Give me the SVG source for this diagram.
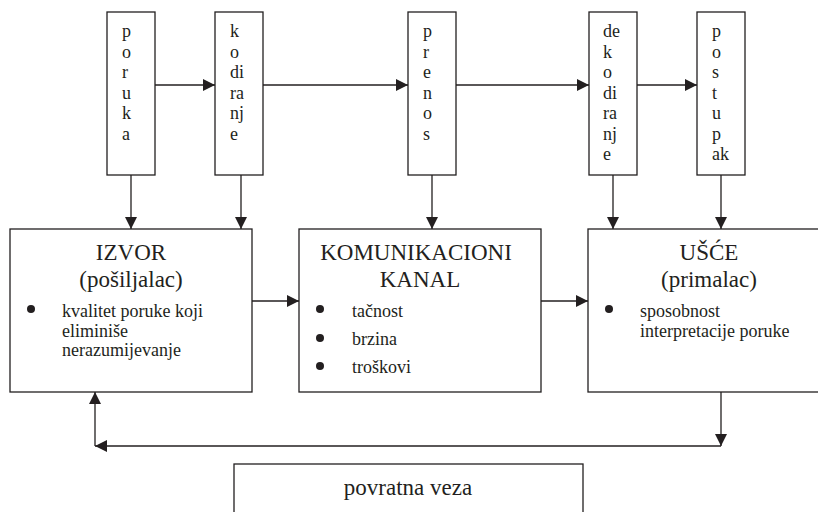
<svg xmlns="http://www.w3.org/2000/svg" width="818" height="512" viewBox="0 0 818 512">
<defs>
<style>
.box{fill:#fff;stroke:#231f20;stroke-width:1.3}
.ln{fill:none;stroke:#231f20;stroke-width:1.3}
.v{font-size:18px;fill:#231f20}
.t{font-size:23px;text-anchor:middle;fill:#231f20}
.b{font-size:18px;fill:#231f20}
.dot{fill:#231f20}
</style>
<marker id="ah" viewBox="0 0 12 12" refX="12" refY="6" markerWidth="12" markerHeight="12" markerUnits="userSpaceOnUse" orient="auto">
<path d="M0,0 L12,6 L0,12 Z" fill="#231f20"/>
</marker>
</defs>
<rect width="818" height="512" fill="#fff"/>

<g id="connectors">
<line class="ln" x1="155" y1="85" x2="215" y2="85" marker-end="url(#ah)"/>
<line class="ln" x1="263" y1="85" x2="408" y2="85" marker-end="url(#ah)"/>
<line class="ln" x1="456" y1="85" x2="589" y2="85" marker-end="url(#ah)"/>
<line class="ln" x1="637" y1="85" x2="697" y2="85" marker-end="url(#ah)"/>
<line class="ln" x1="131" y1="175" x2="131" y2="229" marker-end="url(#ah)"/>
<line class="ln" x1="241" y1="175" x2="241" y2="229" marker-end="url(#ah)"/>
<line class="ln" x1="432" y1="175" x2="432" y2="229" marker-end="url(#ah)"/>
<line class="ln" x1="613" y1="175" x2="613" y2="229" marker-end="url(#ah)"/>
<line class="ln" x1="721" y1="175" x2="721" y2="229" marker-end="url(#ah)"/>
<line class="ln" x1="252" y1="301" x2="299" y2="301" marker-end="url(#ah)"/>
<line class="ln" x1="541" y1="301" x2="588" y2="301" marker-end="url(#ah)"/>
<line class="ln" x1="721" y1="392" x2="721" y2="446" marker-end="url(#ah)"/>
<line class="ln" x1="721" y1="446" x2="95" y2="446" marker-end="url(#ah)"/>
<line class="ln" x1="95" y1="446" x2="95" y2="392" marker-end="url(#ah)"/>
</g>

<g id="poruka">
<rect class="box" x="107" y="12" width="48" height="163"/>
<text class="v" font-family="'Liberation Serif', serif" x="122" y="37">p</text>
<text class="v" font-family="'Liberation Serif', serif" x="122" y="57.5">o</text>
<text class="v" font-family="'Liberation Serif', serif" x="122" y="78">r</text>
<text class="v" font-family="'Liberation Serif', serif" x="122" y="98.5">u</text>
<text class="v" font-family="'Liberation Serif', serif" x="122" y="119">k</text>
<text class="v" font-family="'Liberation Serif', serif" x="122" y="139.5">a</text>
</g>

<g id="kodiranje">
<rect class="box" x="215" y="12" width="48" height="163"/>
<text class="v" font-family="'Liberation Serif', serif" x="230" y="37">k</text>
<text class="v" font-family="'Liberation Serif', serif" x="230" y="57.5">o</text>
<text class="v" font-family="'Liberation Serif', serif" x="230" y="78">di</text>
<text class="v" font-family="'Liberation Serif', serif" x="230" y="98.5">ra</text>
<text class="v" font-family="'Liberation Serif', serif" x="230" y="119">nj</text>
<text class="v" font-family="'Liberation Serif', serif" x="230" y="139.5">e</text>
</g>

<g id="prenos">
<rect class="box" x="408" y="12" width="48" height="163"/>
<text class="v" font-family="'Liberation Serif', serif" x="423" y="37">p</text>
<text class="v" font-family="'Liberation Serif', serif" x="423" y="57.5">r</text>
<text class="v" font-family="'Liberation Serif', serif" x="423" y="78">e</text>
<text class="v" font-family="'Liberation Serif', serif" x="423" y="98.5">n</text>
<text class="v" font-family="'Liberation Serif', serif" x="423" y="119">o</text>
<text class="v" font-family="'Liberation Serif', serif" x="423" y="139.5">s</text>
</g>

<g id="dekodiranje">
<rect class="box" x="589" y="12" width="48" height="163"/>
<text class="v" font-family="'Liberation Serif', serif" x="603" y="37">de</text>
<text class="v" font-family="'Liberation Serif', serif" x="603" y="57.5">k</text>
<text class="v" font-family="'Liberation Serif', serif" x="603" y="78">o</text>
<text class="v" font-family="'Liberation Serif', serif" x="603" y="98.5">di</text>
<text class="v" font-family="'Liberation Serif', serif" x="603" y="119">ra</text>
<text class="v" font-family="'Liberation Serif', serif" x="603" y="139.5">nj</text>
<text class="v" font-family="'Liberation Serif', serif" x="603" y="160">e</text>
</g>

<g id="postupak">
<rect class="box" x="697" y="12" width="48" height="163"/>
<text class="v" font-family="'Liberation Serif', serif" x="712" y="37">p</text>
<text class="v" font-family="'Liberation Serif', serif" x="712" y="57.5">o</text>
<text class="v" font-family="'Liberation Serif', serif" x="712" y="78">s</text>
<text class="v" font-family="'Liberation Serif', serif" x="712" y="98.5">t</text>
<text class="v" font-family="'Liberation Serif', serif" x="712" y="119">u</text>
<text class="v" font-family="'Liberation Serif', serif" x="712" y="139.5">p</text>
<text class="v" font-family="'Liberation Serif', serif" x="712" y="160">ak</text>
</g>

<g id="izvor">
<rect class="box" x="10" y="229" width="242" height="163"/>
<text class="t" font-family="'Liberation Serif', serif" x="131" y="260">IZVOR</text>
<text class="t" font-family="'Liberation Serif', serif" x="131" y="287">(pošiljalac)</text>
<circle class="dot" cx="31" cy="309" r="4"/>
<text class="b" font-family="'Liberation Serif', serif" x="62" y="317">kvalitet poruke koji</text>
<text class="b" font-family="'Liberation Serif', serif" x="62" y="337">eliminiše</text>
<text class="b" font-family="'Liberation Serif', serif" x="62" y="356">nerazumijevanje</text>
</g>

<g id="kanal">
<rect class="box" x="299" y="229" width="242" height="163"/>
<text class="t" font-family="'Liberation Serif', serif" x="416" y="260">KOMUNIKACIONI</text>
<text class="t" font-family="'Liberation Serif', serif" x="420" y="287">KANAL</text>
<circle class="dot" cx="320" cy="309" r="4"/>
<circle class="dot" cx="320" cy="338" r="4"/>
<circle class="dot" cx="320" cy="366" r="4"/>
<text class="b" font-family="'Liberation Serif', serif" x="352" y="317">tačnost</text>
<text class="b" font-family="'Liberation Serif', serif" x="352" y="345">brzina</text>
<text class="b" font-family="'Liberation Serif', serif" x="352" y="373">troškovi</text>
</g>

<g id="usce">
<rect class="box" x="588" y="229" width="242" height="163"/>
<text class="t" font-family="'Liberation Serif', serif" x="709" y="260">UŠĆE</text>
<text class="t" font-family="'Liberation Serif', serif" x="709" y="287">(primalac)</text>
<circle class="dot" cx="609" cy="309" r="4"/>
<text class="b" font-family="'Liberation Serif', serif" x="640" y="317">sposobnost</text>
<text class="b" font-family="'Liberation Serif', serif" x="640" y="337">interpretacije poruke</text>
</g>

<g id="povratna-veza">
<rect class="box" x="234" y="464" width="349" height="60"/>
<text class="t" font-family="'Liberation Serif', serif" x="408" y="495">povratna veza</text>
</g>
</svg>
